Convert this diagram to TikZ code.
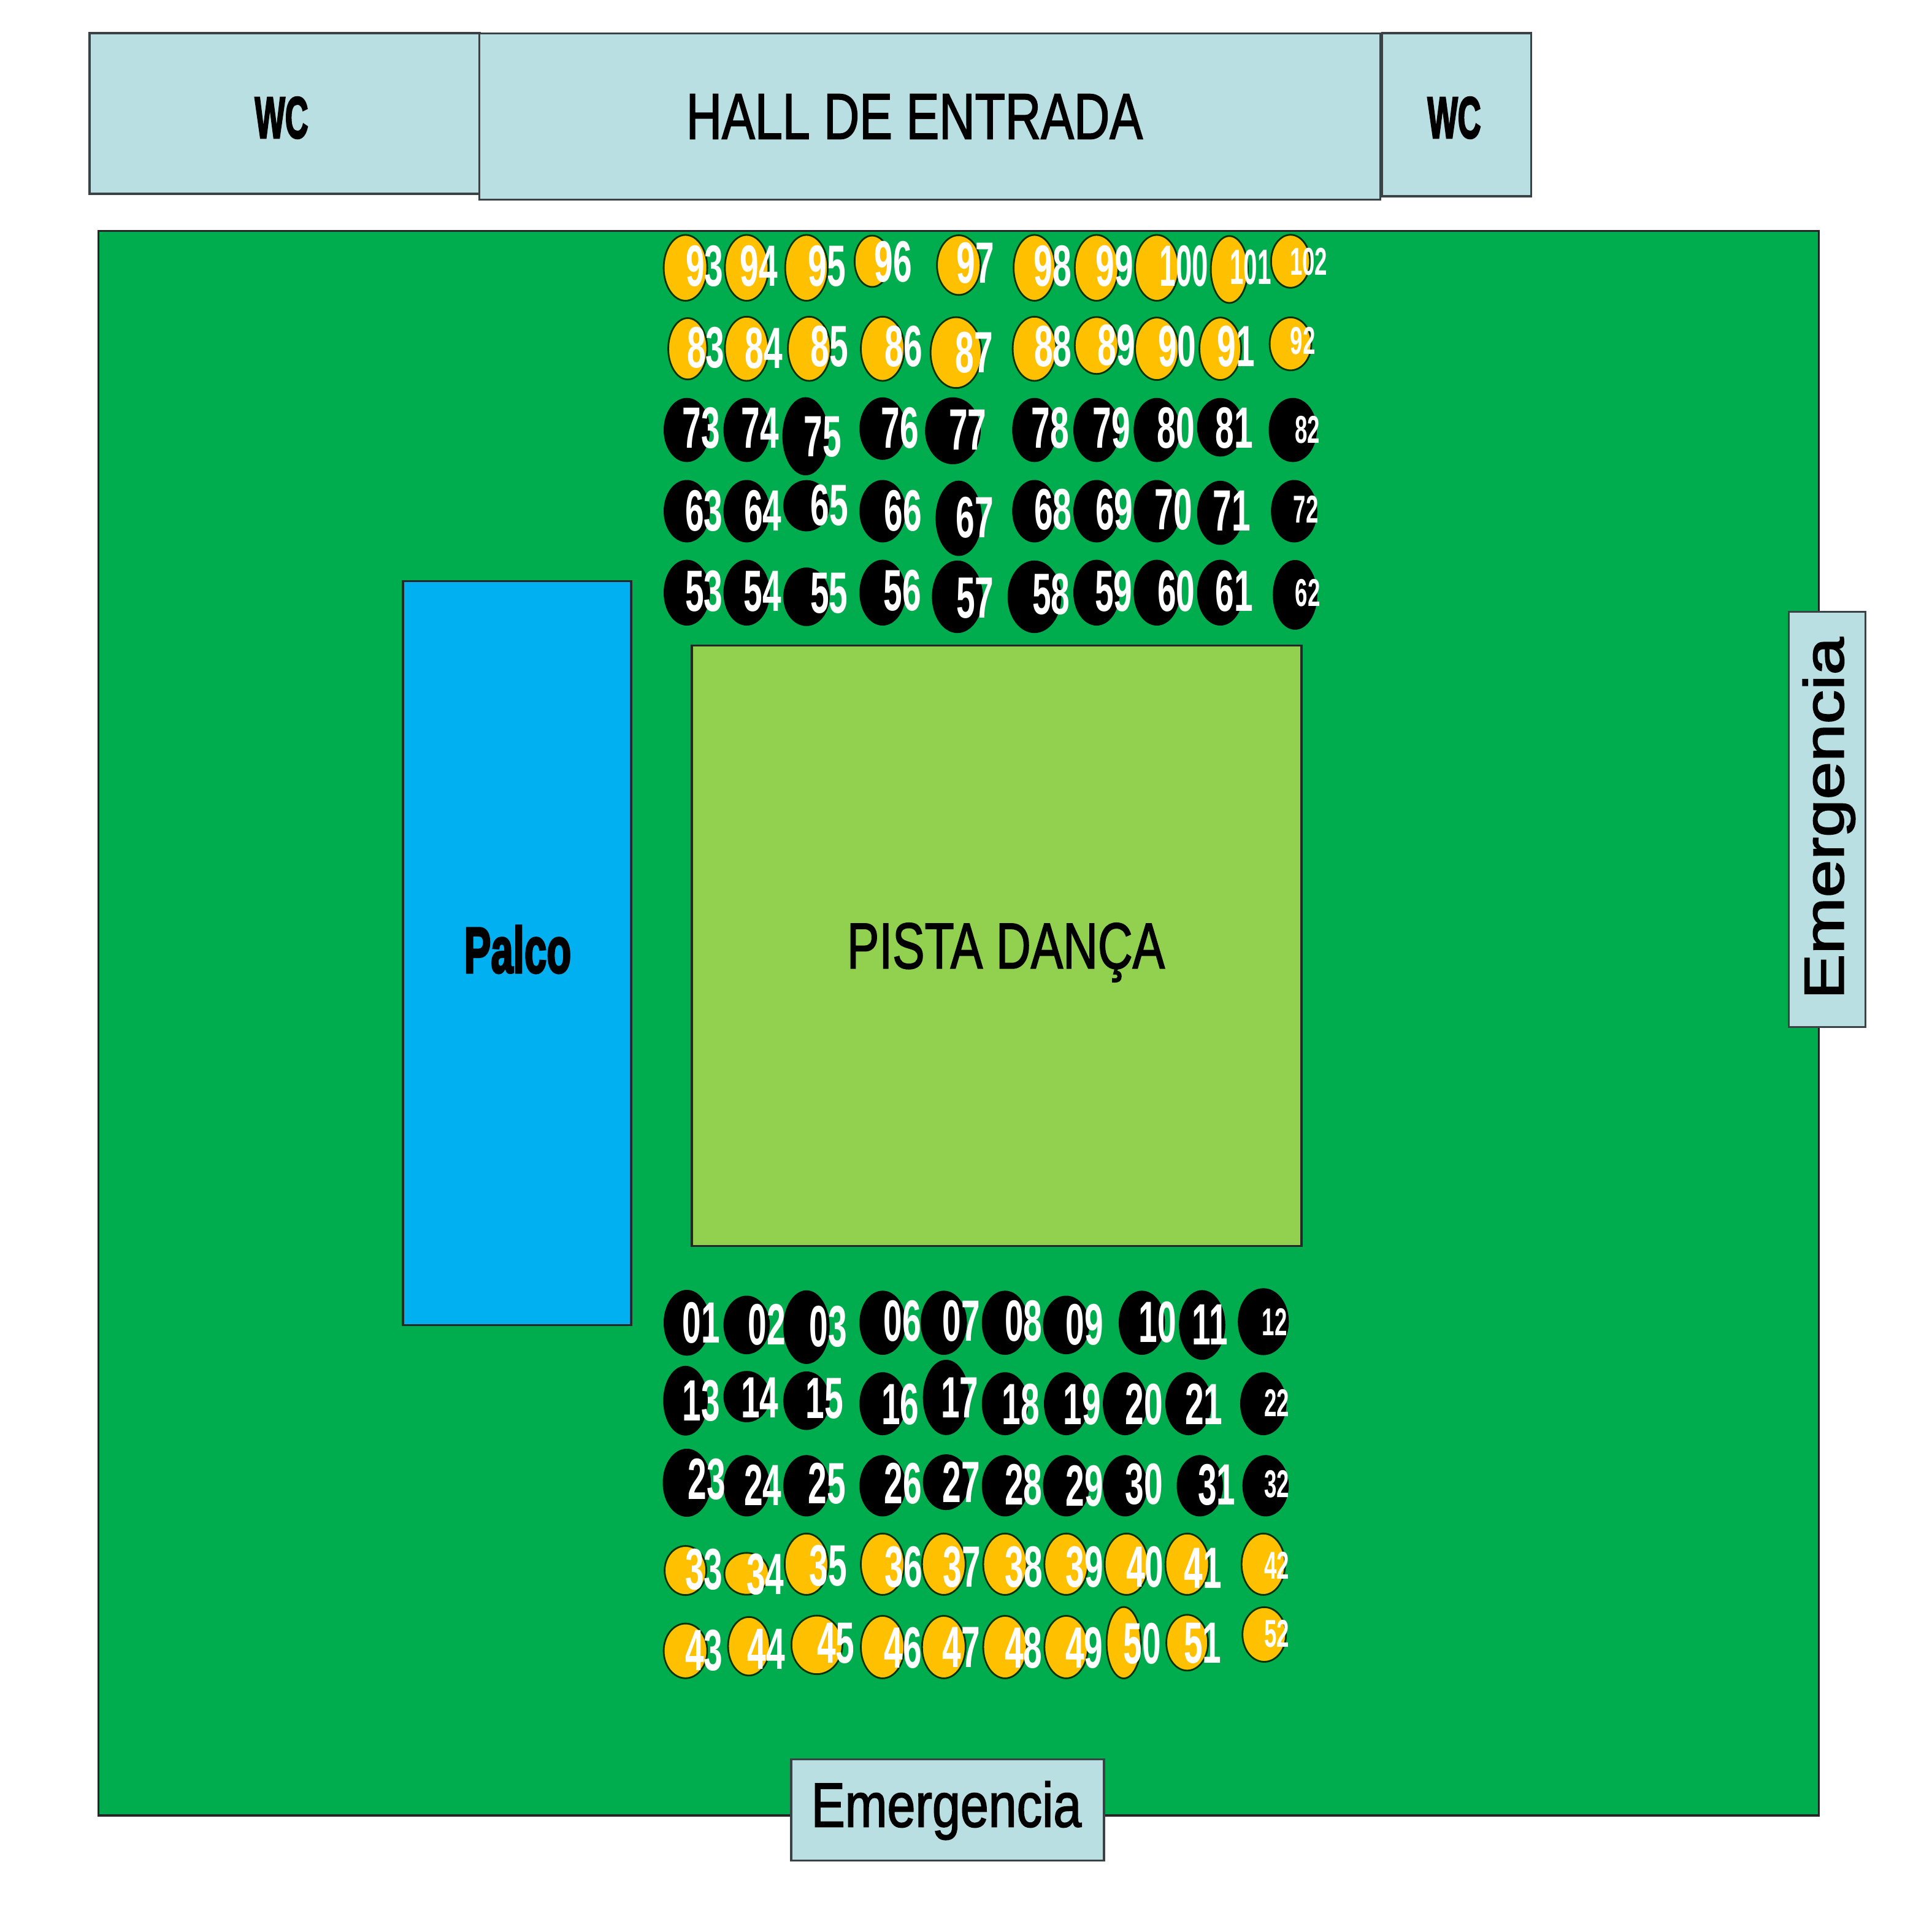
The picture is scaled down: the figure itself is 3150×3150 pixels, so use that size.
\documentclass[tikz,border=0pt]{standalone}
\usepackage{fontspec}
\setmainfont{Liberation Sans}
\newfontfamily\heavyfont[BoldFeatures={FakeBold=3.5}]{Liberation Sans}
\newfontfamily\midfont[FakeBold=2]{Liberation Sans}
\usetikzlibrary{shapes.geometric}
\usetikzlibrary{positioning}
\definecolor{roomblue}{HTML}{B9DFE3}
\definecolor{lawn}{HTML}{00AD4E}
\definecolor{stage}{HTML}{00B0F0}
\definecolor{floorgreen}{HTML}{92D050}
\definecolor{seatyellow}{HTML}{FFC000}
\definecolor{edgegray}{HTML}{3A4245}
\pgfdeclarelayer{front}
\pgfsetlayers{main,front}
\tikzset{room/.style={draw=edgegray,line width=1pt,inner sep=0pt,fill=roomblue},
	seatblack/.style={ellipse,fill=black,inner sep=0pt},
	seatgold/.style={ellipse,draw=black!80!green,line width=0.8pt,fill=seatyellow,inner sep=0pt},
	numbig/.style={text=white,font=\bfseries\fontsize{27}{27}\selectfont,xscale=0.58},
	numsmall/.style={text=white,font=\bfseries\fontsize{18}{18}\selectfont,xscale=0.58},
	numwide/.style={text=white,font=\bfseries\fontsize{27}{27}\selectfont,xscale=0.5},
	numthin/.style={text=white,font=\bfseries\fontsize{23}{23}\selectfont,xscale=0.5},
	heavytext/.style={font=\heavyfont\bfseries\fontsize{#1}{#1}\selectfont},
	mediumtext/.style={font=\midfont\fontsize{#1}{#1}\selectfont}}
% one group of seats: number/centre/half axes/number position
\newcommand{\seatrow}[3]{\foreach \n/\cx/\cy/\wx/\wy/\tx/\ty in {#3} {
	\node[#1,minimum width={2*\wx*0.00755cm},minimum height={2*\wy*0.00455cm}] (b\n) at (\cx,\cy) {};
	\begin{pgfonlayer}{front}
	\node[#2] (t\n) at (\tx,\ty) {\n};
	\end{pgfonlayer}}}
\begin{document}
\begin{tikzpicture}[x=0.01cm,y=-0.01cm]
	\useasboundingbox (0,0) rectangle (3150,3150);
	\fill[white] (0,0) rectangle (3150,3150);
	% rooms
	\node[room,minimum width=6.36cm,minimum height=2.62cm] (wcleft) at (464,185) {};
	\node[room,minimum width=2.43cm,minimum height=2.66cm] (wcright) at (2375,187) {};
	\node[room,minimum width=14.68cm,minimum height=2.71cm] (hall) at (1516,190) {};
	\node[room,draw=black!85,fill=lawn,minimum width=28.03cm,minimum height=25.82cm] (lawn) at (1563,1668) {};
	\node[room,minimum width=1.25cm,minimum height=6.77cm] (exitright) at (2979,1336) {};
	\node[room,minimum width=5.10cm,minimum height=1.65cm] (exitbottom) at (1545,2951) {};
	\node[room,draw=black!85,fill=stage,minimum width=3.72cm,minimum height=12.12cm] (palco) at (843,1554) {};
	\node[room,draw=black!85,fill=floorgreen,minimum width=9.93cm,minimum height=9.78cm] (pista) at (1625,1542) {};
	% room labels
	\node[heavytext=27,xscale=0.55] (wcl) at (459,192) {WC};
	\node[heavytext=27,xscale=0.55] (wcr) at (2371,192) {WC};
	\node[mediumtext=30,xscale=0.765] (halltext) at (1491,190) {HALL DE ENTRADA};
	\node[heavytext=30,xscale=0.62] (palcotext) at (844,1548) {Palco};
	\node[mediumtext=30,xscale=0.745] (pistatext) at (1640,1553) {PISTA DANÇA};
	\node[mediumtext=29,xscale=0.81] (exitbtext) at (1543,2952) {Emergencia};
	\node[mediumtext=26,rotate=90,xscale=1.21] (exitrtext) at (2982,1334) {Emergencia};
	% upper block
	\begin{scope}[shift={(1040,360)},x=0.00739cm,y=-0.00446cm]
	\seatrow{seatgold}{numbig}{93/105/172/47/118/147/165,94/240/172/47/118/267/165,95/372/172/46/118/417/165,
		96/517/148/38/92/563/150,97/708/162/47/107/745/155,98/875/172/45/118/915/165,99/1012/172/47/118/1052/165}
	\seatrow{seatgold}{numwide}{100/1145/172/47/118/1205/165}
	\seatrow{seatgold}{numthin}{101/1305/178/40/120/1352/170}
	\seatrow{seatgold}{numsmall}{102/1440/148/42/95/1480/150}
	\seatrow{seatgold}{numbig}{83/110/468/42/110/150/465,84/240/468/47/115/278/465,85/378/468/46/115/423/460,
		86/540/468/47/115/586/460,87/702/482/55/127/742/482,88/875/468/47/115/916/460,89/1012/456/47/102/1056/455,
		90/1145/468/47/112/1190/460,91/1285/468/45/112/1320/460}
	\seatrow{seatgold}{numsmall}{92/1440/450/45/95/1467/440}
	\seatrow{seatblack}{numbig}{73/108/765/50/115/140/757,74/240/765/50/115/270/757,75/370/788/50/140/408/790,
		76/540/760/50/112/578/757,77/695/768/60/120/728/765,78/875/765/48/115/910/757,79/1012/765/50/115/1045/757,
		80/1145/765/50/115/1187/757,81/1285/755/50/105/1316/757}
	\seatrow{seatblack}{numsmall}{82/1445/765/52/115/1477/765}
	\seatrow{seatblack}{numbig}{63/108/1062/50/112/146/1060,64/240/1062/50/112/276/1060,65/372/1042/50/92/423/1040,
		66/540/1062/50/112/585/1060,67/708/1088/50/135/743/1085,68/875/1062/48/112/916/1057,69/1012/1062/50/112/1051/1057,
		70/1145/1062/50/112/1182/1057,71/1285/1068/50/115/1310/1060}
	\seatrow{seatblack}{numsmall}{72/1448/1062/50/112/1474/1055}
	\seatrow{seatblack}{numbig}{53/108/1360/50/118/146/1355,54/240/1360/50/118/275/1355,55/372/1375/50/105/422/1362,
		56/540/1360/50/118/584/1352,57/705/1375/55/130/744/1380,58/875/1375/58/130/912/1365,59/1012/1360/50/118/1050/1355,
		60/1145/1360/50/118/1188/1355,61/1285/1360/50/118/1316/1355}
	\seatrow{seatblack}{numsmall}{62/1450/1368/48/125/1478/1360}
	\end{scope}
	% lower block
	\begin{scope}[shift={(1040,2080)},x=0.00739cm,y=-0.00446cm]
	\seatrow{seatblack}{numbig}{01/108/172/50/118/140/172,02/240/180/50/105/285/178,03/372/188/50/132/420/185,
		06/540/172/50/115/584/165,07/675/172/50/115/714/165,08/810/172/50/115/851/165,09/945/180/50/105/986/178,
		10/1112/172/50/115/1147/170,11/1245/180/50/125/1262/180}
	\seatrow{seatblack}{numsmall}{12/1380/168/55/120/1405/170}
	\seatrow{seatblack}{numbig}{13/105/457/48/125/140/457,14/240/442/50/92/269/445,15/372/457/50/105/412/450,
		16/540/468/50/113/579/470,17/680/445/50/135/710/445,18/810/468/50/113/845/470,19/945/468/48/113/980/470,
		20/1075/468/48/113/1117/470,21/1215/468/50/113/1249/470}
	\seatrow{seatblack}{numsmall}{22/1380/468/50/113/1410/465}
	\seatrow{seatblack}{numbig}{23/108/757/52/122/152/745,24/240/768/50/110/276/765,25/372/768/50/110/417/760,
		26/540/768/50/110/585/760,27/680/755/50/100/714/755,28/810/768/50/110/851/765,29/945/768/50/110/986/768,
		30/1075/768/48/110/1117/762,31/1240/768/50/110/1277/765}
	\seatrow{seatblack}{numsmall}{32/1385/768/50/110/1410/762}
	\seatrow{seatgold}{numbig}{33/105/1078/45/88/146/1075,34/240/1090/48/75/281/1092,35/372/1055/47/110/420/1060,
		36/540/1055/47/110/586/1065,37/675/1055/47/110/715/1065,38/810/1055/47/110/852/1065,39/945/1055/47/110/986/1065,
		40/1078/1055/47/110/1119/1065,41/1212/1055/47/110/1247/1070}
	\seatrow{seatgold}{numsmall}{42/1380/1055/47/110/1410/1060}
	\seatrow{seatgold}{numbig}{43/105/1372/47/98/146/1370,44/245/1355/45/105/283/1365,45/395/1350/55/105/437/1345,
		46/540/1358/47/112/585/1360,47/675/1358/47/112/714/1360,48/810/1358/47/112/851/1360,49/945/1358/47/112/985/1360,
		50/1072/1342/37/128/1113/1345,51/1212/1342/45/100/1246/1345}
	\seatrow{seatgold}{numsmall}{52/1382/1312/47/98/1410/1310}
	\end{scope}
\end{tikzpicture}
\end{document}
